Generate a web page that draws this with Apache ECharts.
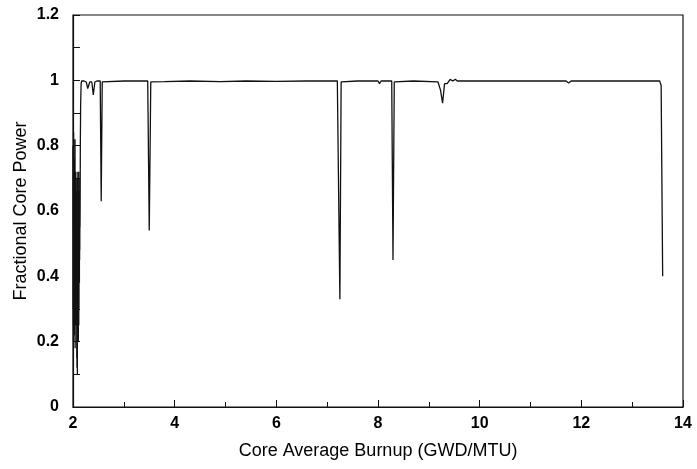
<!DOCTYPE html>
<html>
<head>
<meta charset="utf-8">
<script src="https://cdn.jsdelivr.net/npm/echarts@6/dist/echarts.min.js"></script>
<style>
    html, body { margin: 0; padding: 0; background: #fff; }
    #chart { width: 697px; height: 469px; }
</style>
</head>
<body>
<div id="chart"></div>
<script>
// Core average burnup (GWD/MTU)
let burnup = [
    2.000, 2.002, 2.004, 2.006, 2.008, 2.010, 2.012, 2.014, 2.016, 2.018,
    2.020, 2.022, 2.024, 2.026, 2.028, 2.030, 2.032, 2.034, 2.036, 2.038,
    2.040, 2.042, 2.044, 2.046, 2.048, 2.050, 2.052, 2.054, 2.056, 2.058,
    2.060, 2.062, 2.064, 2.066, 2.068, 2.070, 2.072, 2.074, 2.076, 2.078,
    2.080, 2.082, 2.084, 2.086, 2.088, 2.090, 2.092, 2.094, 2.096, 2.098,
    2.100, 2.102, 2.104, 2.106, 2.108, 2.110, 2.112, 2.114, 2.116, 2.118,
    2.120, 2.122, 2.124, 2.126, 2.128, 2.130, 2.132, 2.134, 2.136, 2.138,
    2.140, 2.144, 2.150, 2.160, 2.170,
    2.22, 2.26, 2.29, 2.33, 2.37, 2.40, 2.43, 2.47, 2.535, 2.555, 2.575,
    2.60, 3.00, 3.47, 3.50, 3.53, 3.56, 3.80, 4.30, 4.90, 5.40, 6.00, 6.60, 7.20,
    7.225, 7.25, 7.275, 7.30, 7.60, 8.00, 8.03, 8.06, 8.27, 8.295, 8.32, 8.345,
    8.70, 9.18, 9.23, 9.27, 9.31, 9.36, 9.42, 9.47, 9.52, 9.56, 9.62, 10.2,
    10.8, 11.4, 11.7, 11.75, 11.8, 12.4, 13.0, 13.54, 13.57, 13.60
];

// Fractional core power
let power = [
    0.80, 0.30, 0.78, 0.25, 0.70, 0.20, 0.84, 0.35, 0.72, 0.28,
    0.66, 0.22, 0.74, 0.30, 0.70, 0.26, 0.68, 0.38, 0.76, 0.30,
    0.82, 0.18, 0.65, 0.32, 0.72, 0.28, 0.70, 0.36, 0.72, 0.25,
    0.68, 0.40, 0.70, 0.25, 0.66, 0.30, 0.62, 0.15, 0.58, 0.12,
    0.55, 0.30, 0.62, 0.10, 0.60, 0.35, 0.70, 0.30, 0.72, 0.32,
    0.70, 0.28, 0.72, 0.20, 0.66, 0.35, 0.60, 0.25, 0.64, 0.30,
    0.58, 0.40, 0.65, 0.38, 0.66, 0.45, 0.70, 0.48, 0.72, 0.55,
    0.60, 0.80, 0.92, 0.99, 0.998,
    0.998, 0.995, 0.975, 0.995, 0.995, 0.955, 0.995, 0.998, 0.998, 0.63, 0.995,
    0.998, 0.998, 0.998, 0.54, 0.995, 0.998, 0.996, 0.998, 0.996, 0.998, 0.997, 0.998, 0.998,
    0.998, 0.33, 0.995, 0.998, 0.998, 0.998, 0.99, 0.998, 0.998, 0.45, 0.995, 0.998,
    0.998, 0.995, 0.97, 0.93, 0.99, 0.99, 1.003, 0.998, 1.003, 0.998, 0.998, 0.998,
    0.998, 0.998, 0.998, 0.992, 0.998, 0.998, 0.998, 0.998, 0.985, 0.40
];

let xTicks = { min: 2, max: 14, step: 2 };
let yTicks = { min: 0, max: 1.2, step: 0.2 };

let chart = echarts.init(document.getElementById('chart'), null, { renderer: 'canvas' });

let seriesData = burnup.map(function (b, i) { return [b, power[i]]; });

let labelFont = {
    color: '#000',
    fontFamily: 'Liberation Sans',
    fontWeight: 'bold',
    fontSize: 16
};

let nameFont = {
    color: '#000',
    fontFamily: 'Liberation Sans',
    fontSize: 18
};

let option = {
    animation: false,
    backgroundColor: '#fff',
    grid: {
        left: 73,
        right: 14,
        top: 15,
        bottom: 62,
        show: true,
        borderColor: '#111',
        borderWidth: 1.2
    },
    xAxis: {
        type: 'value',
        min: xTicks.min,
        max: xTicks.max,
        interval: xTicks.step,
        name: 'Core Average Burnup (GWD/MTU)',
        nameLocation: 'middle',
        nameGap: 35,
        nameMoveOverlap: false,
        nameTextStyle: nameFont,
        axisLine: { lineStyle: { color: '#111', width: 1.2 } },
        axisTick: { inside: true, length: 7, lineStyle: { color: '#111' } },
        minorTick: { show: true, splitNumber: 2, length: 5, lineStyle: { color: '#111' } },
        splitLine: { show: false },
        axisLabel: Object.assign({ margin: 9 }, labelFont)
    },
    yAxis: {
        type: 'value',
        min: yTicks.min,
        max: yTicks.max,
        interval: yTicks.step,
        name: 'Fractional Core Power',
        nameLocation: 'middle',
        nameGap: 43,
        nameMoveOverlap: false,
        nameTextStyle: nameFont,
        axisLine: { show: true, lineStyle: { color: '#111', width: 1.2 } },
        axisTick: { show: true, inside: true, length: 7, lineStyle: { color: '#111' } },
        minorTick: { show: true, splitNumber: 2, length: 7, lineStyle: { color: '#111' } },
        splitLine: { show: false },
        axisLabel: Object.assign({ margin: 14 }, labelFont)
    },
    series: [
        {
            type: 'line',
            data: seriesData,
            showSymbol: false,
            lineStyle: { color: '#111', width: 1.3 }
        }
    ]
};
option && chart.setOption(option);
</script>
</body>
</html>
